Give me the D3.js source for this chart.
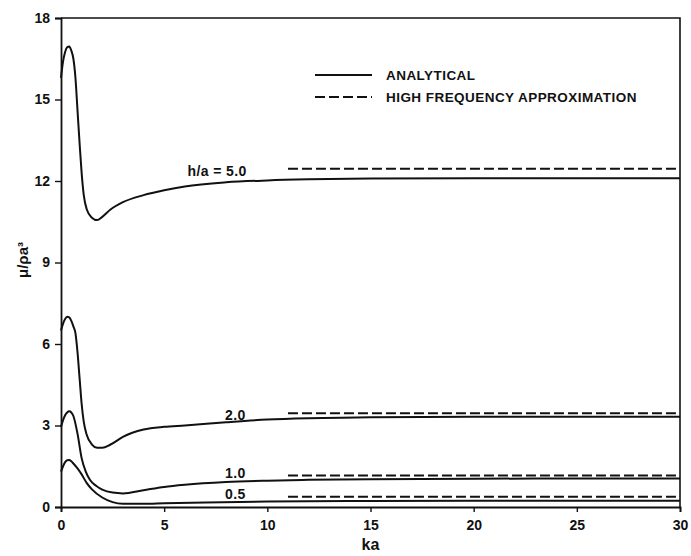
<!DOCTYPE html>
<html>
<head>
<meta charset="utf-8">
<script src="https://cdn.jsdelivr.net/npm/d3@7"></script>
<style>
  body { margin: 0; background: #fff; }
  text { font-family: "Liberation Sans", Arial, sans-serif; font-weight: bold; fill: #111; }
</style>
</head>
<body>
<svg id="chart" width="691" height="556"></svg>
<script>
// analytical curves
const ka50 = [0, 0.1, 0.2, 0.3, 0.4, 0.5, 0.6, 0.7, 0.8, 0.9, 1.0, 1.1, 1.25, 1.5, 1.75, 2.0, 2.4, 3, 4, 5, 6, 8, 10, 12, 15, 20, 25, 30];
const mu50 = [15.8, 16.4, 16.75, 16.92, 16.95, 16.8, 16.5, 15.8, 14.6, 13.4, 12.3, 11.5, 10.95, 10.65, 10.56, 10.68, 10.95, 11.22, 11.48, 11.66, 11.8, 11.95, 12.02, 12.06, 12.09, 12.1, 12.1, 12.1];

const ka20 = [0, 0.1, 0.2, 0.3, 0.4, 0.5, 0.6, 0.7, 0.8, 0.9, 1.0, 1.1, 1.25, 1.5, 1.75, 2.0, 2.4, 3, 4, 5, 6, 8, 10, 12, 15, 20, 25, 30];
const mu20 = [6.5, 6.75, 6.92, 7.0, 6.98, 6.85, 6.65, 6.4, 5.7, 4.75, 3.8, 3.15, 2.65, 2.3, 2.18, 2.18, 2.3, 2.58, 2.85, 2.95, 3.0, 3.12, 3.22, 3.27, 3.3, 3.32, 3.32, 3.32];

const ka10 = [0, 0.1, 0.2, 0.3, 0.4, 0.5, 0.6, 0.8, 1.0, 1.2, 1.4, 1.7, 2.0, 2.5, 3, 4, 5, 6, 8, 10, 12, 15, 20, 25, 30];
const mu10 = [2.95, 3.2, 3.38, 3.48, 3.52, 3.48, 3.35, 2.7, 1.8, 1.3, 1.0, 0.78, 0.64, 0.53, 0.5, 0.62, 0.74, 0.82, 0.92, 0.97, 1.0, 1.02, 1.04, 1.05, 1.05];

const ka05 = [0, 0.1, 0.2, 0.3, 0.4, 0.5, 0.6, 0.8, 1.0, 1.25, 1.5, 2.0, 2.5, 3, 4, 5, 7, 10, 15, 20, 25, 30];
const mu05 = [1.3, 1.5, 1.65, 1.72, 1.73, 1.68, 1.6, 1.42, 1.2, 0.88, 0.65, 0.35, 0.18, 0.12, 0.12, 0.14, 0.17, 0.2, 0.22, 0.23, 0.23, 0.23];

// high frequency approximation (constant levels)
const hfRatios = ['5.0', '2.0', '1.0', '0.5'];
const hfLevels = [12.45, 3.45, 1.16, 0.38];
const hfRange = [11, 30];

const curveLabels = ['h/a = 5.0', '2.0', '1.0', '0.5'];
const labelKa = [9.0, 8.95, 8.95, 8.95];
const labelMu = [12.2, 3.2, 1.05, 0.3];

const xTicks = [0, 5, 10, 15, 20, 25, 30];
const yTicks = [0, 3, 6, 9, 12, 15, 18];

const svg = d3.select('#chart');

const x = d3.scaleLinear().domain([0, 30]).range([61, 680]);
const y = d3.scaleLinear().domain([0, 18]).range([507, 18]);

// frame
svg.append('path')
  .attr('d', `M${x(0)},${y(18)} H${x(30)} V${y(0)}`)
  .attr('fill', 'none')
  .attr('stroke', '#111')
  .attr('stroke-width', 1.6);

const xAxis = svg.append('g')
  .attr('transform', `translate(0,${y(0)})`)
  .call(d3.axisBottom(x).tickValues(xTicks).tickSize(5).tickPadding(8).tickFormat(d3.format('d')));

const yAxis = svg.append('g')
  .attr('transform', `translate(${x(0)},0)`)
  .call(d3.axisLeft(y).tickValues(yTicks).tickSize(6).tickPadding(5).tickFormat(d3.format('d')));

[xAxis, yAxis].forEach(g => {
  g.select('.domain').attr('stroke', '#111').attr('stroke-width', 1.8);
  g.selectAll('.tick line').attr('stroke', '#111').attr('stroke-width', 1.4);
  g.selectAll('.tick text')
    .attr('fill', '#111')
    .style('font-size', '14px')
    .style('font-family', '"Liberation Sans", Arial, sans-serif')
    .style('font-weight', 'bold');
});

// axis titles
svg.append('text')
  .attr('x', x(15))
  .attr('y', 550)
  .attr('text-anchor', 'middle')
  .style('font-size', '16px')
  .text('ka');

svg.append('text')
  .attr('transform', `translate(28,260) rotate(-90)`)
  .attr('text-anchor', 'middle')
  .style('font-size', '15px')
  .text('μ/ρa³');

// analytical curves
const line = d3.line()
  .x(d => x(d[0]))
  .y(d => y(d[1]))
  .curve(d3.curveMonotoneX);

const series = [[ka50, mu50], [ka20, mu20], [ka10, mu10], [ka05, mu05]];

svg.append('g')
  .selectAll('path')
  .data(series)
  .join('path')
  .attr('d', s => line(d3.zip(s[0], s[1])))
  .attr('fill', 'none')
  .attr('stroke', '#111')
  .attr('stroke-width', 2);

// high frequency approximations
svg.append('g')
  .selectAll('line')
  .data(hfLevels)
  .join('line')
  .attr('x1', x(hfRange[0]))
  .attr('x2', x(hfRange[1]))
  .attr('y1', d => y(d))
  .attr('y2', d => y(d))
  .attr('stroke', '#111')
  .attr('stroke-width', 2)
  .attr('stroke-dasharray', '10,4');

// curve labels
svg.append('g')
  .selectAll('text')
  .data(curveLabels)
  .join('text')
  .attr('x', (d, i) => x(labelKa[i]))
  .attr('y', (d, i) => y(labelMu[i]))
  .attr('text-anchor', 'end')
  .style('font-size', '14px')
  .style('letter-spacing', '0.4px')
  .text(d => d);

// legend
const legend = svg.append('g').attr('transform', 'translate(315,75)');
const legendItems = ['ANALYTICAL', 'HIGH FREQUENCY APPROXIMATION'];
const legendDash = [null, '10,4'];

legendItems.forEach((name, i) => {
  const row = legend.append('g').attr('transform', `translate(0,${i * 22})`);
  row.append('line')
    .attr('x1', 0).attr('x2', 57)
    .attr('y1', 0).attr('y2', 0)
    .attr('stroke', '#111')
    .attr('stroke-width', 2)
    .attr('stroke-dasharray', legendDash[i]);
  row.append('text')
    .attr('x', 71)
    .attr('y', 4.5)
    .style('font-size', '13.5px')
    .style('letter-spacing', '0.45px')
    .text(name);
});
</script>
</body>
</html>
